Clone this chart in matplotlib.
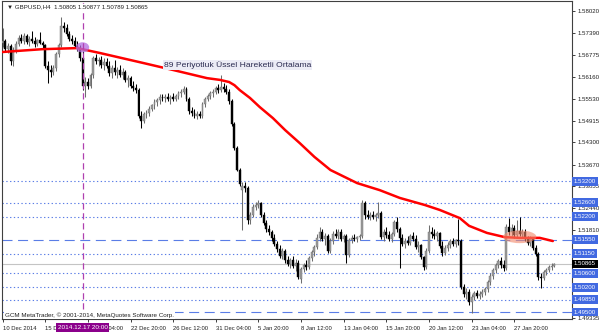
import matplotlib
matplotlib.use("Agg")
import matplotlib.pyplot as plt
import matplotlib.transforms as mtransforms
from matplotlib.patches import Ellipse
import numpy as np

# ---------------- data ----------------
opens = [
    1.5712, 1.5716, 1.5694, 1.5704, 1.5660, 1.5692, 1.5710, 1.5726, 1.5718, 1.5730,
    1.5714, 1.5722, 1.5716, 1.5710, 1.5720, 1.5712, 1.5706, 1.5646, 1.5636, 1.5628,
    1.5640, 1.5680, 1.5706, 1.5760, 1.5754, 1.5736, 1.5722, 1.5716, 1.5704, 1.5698,
    1.5670, 1.5590, 1.5600, 1.5590, 1.5620, 1.5668, 1.5660, 1.5664, 1.5648, 1.5658,
    1.5646, 1.5626, 1.5640, 1.5628, 1.5634, 1.5622, 1.5630, 1.5606, 1.5612, 1.5590,
    1.5584, 1.5578, 1.5506, 1.5490, 1.5510, 1.5514, 1.5526, 1.5536, 1.5544, 1.5550,
    1.5558, 1.5556, 1.5560, 1.5552, 1.5558, 1.5554, 1.5562, 1.5570, 1.5574, 1.5580,
    1.5552, 1.5518, 1.5512, 1.5506, 1.5510, 1.5504, 1.5538, 1.5554, 1.5562, 1.5570,
    1.5574, 1.5584, 1.5578, 1.5588, 1.5580, 1.5574, 1.5546, 1.5482, 1.5414, 1.5352,
    1.5296, 1.5308, 1.5300, 1.5210, 1.5226, 1.5248, 1.5254, 1.5258, 1.5226, 1.5202,
    1.5184, 1.5176, 1.5160, 1.5142, 1.5128, 1.5110, 1.5122, 1.5096, 1.5086, 1.5098,
    1.5080, 1.5090, 1.5044, 1.5072, 1.5084, 1.5078, 1.5102, 1.5120, 1.5134, 1.5160,
    1.5176, 1.5158, 1.5166, 1.5124, 1.5152, 1.5170, 1.5166, 1.5178, 1.5156, 1.5164,
    1.5112, 1.5154, 1.5160, 1.5156, 1.5162, 1.5166, 1.5258, 1.5226, 1.5220, 1.5226,
    1.5218, 1.5224, 1.5230, 1.5162, 1.5178, 1.5168, 1.5156, 1.5170, 1.5204, 1.5186,
    1.5160, 1.5144, 1.5152, 1.5146, 1.5164, 1.5156, 1.5134, 1.5140, 1.5106, 1.5078,
    1.5124, 1.5178, 1.5170, 1.5164, 1.5174, 1.5136, 1.5118, 1.5132, 1.5140, 1.5150,
    1.5142, 1.5154, 1.5150, 1.5022, 1.5000, 1.5008, 1.4978, 1.4992, 1.5004, 1.4996,
    1.5002, 1.5008, 1.5014, 1.5034, 1.5052, 1.5070, 1.5082, 1.5094, 1.5084, 1.5074,
    1.5190, 1.5176, 1.5188, 1.5168, 1.5180, 1.5172, 1.5178, 1.5156, 1.5146, 1.5158,
    1.5130, 1.5114, 1.5050, 1.5046, 1.5062, 1.5070, 1.5078, 1.50805,
]
highs = [
    1.5754, 1.5722, 1.5712, 1.5708, 1.5700, 1.5716, 1.5734, 1.5736, 1.5740, 1.5738,
    1.5730, 1.5744, 1.5728, 1.5724, 1.5742, 1.5718, 1.5710, 1.5660, 1.5650, 1.5648,
    1.5686, 1.5712, 1.5785, 1.5772, 1.5764, 1.5746, 1.5734, 1.5728, 1.5718, 1.5706,
    1.5690, 1.5615, 1.5612, 1.5626, 1.5675, 1.5680, 1.5672, 1.5674, 1.5668, 1.5670,
    1.5660, 1.5650, 1.5662, 1.5644, 1.5648, 1.5642, 1.5636, 1.5620, 1.5618, 1.5604,
    1.5596, 1.5584, 1.5520, 1.5516, 1.5522, 1.5532, 1.5540, 1.5552, 1.5556, 1.5566,
    1.5568, 1.5566, 1.5570, 1.5564, 1.5570, 1.5568, 1.5576, 1.5582, 1.5590, 1.5586,
    1.5560, 1.5530, 1.5524, 1.5520, 1.5518, 1.5544, 1.5560, 1.5568, 1.5576, 1.5580,
    1.5590, 1.5596, 1.5621, 1.5598, 1.5594, 1.5580, 1.5552, 1.5488, 1.5420, 1.5358,
    1.5318, 1.5318, 1.5306, 1.5232, 1.5256, 1.5262, 1.5266, 1.5262, 1.5232, 1.5210,
    1.5196, 1.5182, 1.5170, 1.5150, 1.5140, 1.5130, 1.5128, 1.5110, 1.5104, 1.5108,
    1.5100, 1.5096, 1.5078, 1.5090, 1.5096, 1.5108, 1.5126, 1.5140, 1.5170, 1.5191,
    1.5186, 1.5174, 1.5172, 1.5160, 1.5180, 1.5184, 1.5186, 1.5184, 1.5170, 1.5172,
    1.5160, 1.5168, 1.5170, 1.5166, 1.5172, 1.5267, 1.5264, 1.5238, 1.5232, 1.5236,
    1.5230, 1.5262, 1.5236, 1.5184, 1.5190, 1.5180, 1.5176, 1.5210, 1.5220, 1.5190,
    1.5170, 1.5160, 1.5166, 1.5172, 1.5176, 1.5168, 1.5150, 1.5144, 1.5110, 1.5130,
    1.5196, 1.5190, 1.5184, 1.5180, 1.5178, 1.5150, 1.5140, 1.5148, 1.5156, 1.5160,
    1.5158, 1.5214, 1.5156, 1.5030, 1.5018, 1.5014, 1.5000, 1.5010, 1.5012, 1.5010,
    1.5014, 1.5020, 1.5040, 1.5060, 1.5076, 1.5090, 1.5100, 1.5106, 1.5096, 1.5198,
    1.5215, 1.5200, 1.5196, 1.5210, 1.5218, 1.5186, 1.5184, 1.5166, 1.5164, 1.5162,
    1.5140, 1.5120, 1.5060, 1.5070, 1.5076, 1.5084, 1.5088, 1.50877,
]
lows = [
    1.5700, 1.5686, 1.5683, 1.5650, 1.5646, 1.5684, 1.5702, 1.5712, 1.5708, 1.5710,
    1.5704, 1.5712, 1.5700, 1.5702, 1.5708, 1.5698, 1.5640, 1.5598, 1.5616, 1.5620,
    1.5632, 1.5672, 1.5700, 1.5742, 1.5730, 1.5716, 1.5708, 1.5700, 1.5690, 1.5660,
    1.5578, 1.5558, 1.5580, 1.5584, 1.5612, 1.5652, 1.5646, 1.5640, 1.5636, 1.5640,
    1.5618, 1.5612, 1.5620, 1.5612, 1.5616, 1.5610, 1.5600, 1.5588, 1.5584, 1.5576,
    1.5570, 1.5500, 1.5470, 1.5484, 1.5498, 1.5506, 1.5518, 1.5526, 1.5532, 1.5540,
    1.5546, 1.5544, 1.5546, 1.5540, 1.5548, 1.5546, 1.5554, 1.5560, 1.5566, 1.5546,
    1.5510, 1.5504, 1.5500, 1.5496, 1.5498, 1.5500, 1.5530, 1.5546, 1.5554, 1.5560,
    1.5566, 1.5570, 1.5572, 1.5572, 1.5566, 1.5540, 1.5476, 1.5410, 1.5348, 1.5308,
    1.5182, 1.5290, 1.5200, 1.5198, 1.5218, 1.5240, 1.5244, 1.5220, 1.5196, 1.5176,
    1.5168, 1.5152, 1.5136, 1.5120, 1.5104, 1.5100, 1.5090, 1.5080, 1.5076, 1.5074,
    1.5066, 1.5044, 1.5032, 1.5064, 1.5070, 1.5072, 1.5094, 1.5110, 1.5128, 1.5150,
    1.5150, 1.5140, 1.5116, 1.5118, 1.5144, 1.5160, 1.5158, 1.5150, 1.5148, 1.5090,
    1.5106, 1.5146, 1.5150, 1.5148, 1.5154, 1.5160, 1.5214, 1.5212, 1.5210, 1.5214,
    1.5208, 1.5216, 1.5156, 1.5152, 1.5160, 1.5150, 1.5148, 1.5164, 1.5178, 1.5075,
    1.5136, 1.5132, 1.5140, 1.5140, 1.5150, 1.5128, 1.5120, 1.5100, 1.5070, 1.5072,
    1.5118, 1.5160, 1.5158, 1.5150, 1.5130, 1.5110, 1.5112, 1.5122, 1.5130, 1.5136,
    1.5134, 1.5140, 1.5016, 1.4992, 1.4988, 1.4970, 1.4947, 1.4984, 1.4990, 1.4986,
    1.4992, 1.4998, 1.5008, 1.5026, 1.5044, 1.5060, 1.5074, 1.5076, 1.5066, 1.5068,
    1.5168, 1.5164, 1.5160, 1.5160, 1.5166, 1.5160, 1.5150, 1.5140, 1.5138, 1.5126,
    1.5108, 1.5040, 1.5018, 1.5040, 1.5054, 1.5064, 1.5070, 1.50789,
]
closes = [
    1.5716, 1.5694, 1.5704, 1.5660, 1.5692, 1.5710, 1.5726, 1.5718, 1.5730, 1.5714,
    1.5722, 1.5716, 1.5710, 1.5720, 1.5712, 1.5706, 1.5646, 1.5636, 1.5628, 1.5640,
    1.5680, 1.5706, 1.5760, 1.5754, 1.5736, 1.5722, 1.5716, 1.5704, 1.5698, 1.5670,
    1.5590, 1.5600, 1.5590, 1.5620, 1.5668, 1.5660, 1.5664, 1.5648, 1.5658, 1.5646,
    1.5626, 1.5640, 1.5628, 1.5634, 1.5622, 1.5630, 1.5606, 1.5612, 1.5590, 1.5584,
    1.5578, 1.5506, 1.5490, 1.5510, 1.5514, 1.5526, 1.5536, 1.5544, 1.5550, 1.5558,
    1.5556, 1.5560, 1.5552, 1.5558, 1.5554, 1.5562, 1.5570, 1.5574, 1.5580, 1.5552,
    1.5518, 1.5512, 1.5506, 1.5510, 1.5504, 1.5538, 1.5554, 1.5562, 1.5570, 1.5574,
    1.5584, 1.5578, 1.5588, 1.5580, 1.5574, 1.5546, 1.5482, 1.5414, 1.5352, 1.5312,
    1.5308, 1.5300, 1.5210, 1.5226, 1.5248, 1.5254, 1.5258, 1.5226, 1.5202, 1.5184,
    1.5176, 1.5160, 1.5142, 1.5128, 1.5110, 1.5122, 1.5096, 1.5086, 1.5098, 1.5080,
    1.5090, 1.5048, 1.5072, 1.5084, 1.5078, 1.5102, 1.5120, 1.5134, 1.5160, 1.5176,
    1.5158, 1.5166, 1.5124, 1.5152, 1.5170, 1.5166, 1.5178, 1.5156, 1.5164, 1.5112,
    1.5154, 1.5160, 1.5156, 1.5162, 1.5166, 1.5258, 1.5226, 1.5220, 1.5226, 1.5218,
    1.5224, 1.5230, 1.5162, 1.5178, 1.5168, 1.5156, 1.5170, 1.5204, 1.5186, 1.5160,
    1.5144, 1.5152, 1.5146, 1.5164, 1.5156, 1.5134, 1.5140, 1.5106, 1.5078, 1.5124,
    1.5178, 1.5170, 1.5164, 1.5174, 1.5136, 1.5118, 1.5132, 1.5140, 1.5150, 1.5142,
    1.5154, 1.5150, 1.5022, 1.5000, 1.5008, 1.4978, 1.4992, 1.5004, 1.4996, 1.5002,
    1.5008, 1.5014, 1.5034, 1.5052, 1.5070, 1.5082, 1.5094, 1.5084, 1.5074, 1.5190,
    1.5176, 1.5188, 1.5168, 1.5180, 1.5172, 1.5178, 1.5156, 1.5146, 1.5158, 1.5130,
    1.5114, 1.5050, 1.5046, 1.5062, 1.5070, 1.5078, 1.5080, 1.50865,
]

# 89-period EMA (bar index, price)
ema_bars = [0, 15, 28, 36.6, 52.7, 64, 76.7, 81.6, 85, 87, 89, 92.8, 96.5, 101.4,
            106, 111.5, 117, 123, 133, 141.5, 149, 158.4, 164, 171.5, 175,
            181.7, 188.4, 194, 201.5, 206.4]
ema_vals = [1.5686, 1.5694, 1.5697, 1.5683, 1.5655, 1.5635, 1.5612, 1.5607, 1.5601,
            1.5592, 1.5578, 1.5556, 1.5530, 1.5499, 1.5465, 1.5428, 1.5389, 1.5352,
            1.5315, 1.5295, 1.5273, 1.5253, 1.5239, 1.5216, 1.5194, 1.5174, 1.5162,
            1.5160, 1.5160, 1.5151]

xtick_bars = [0, 16, 32, 48, 64, 80, 96, 112, 128, 144, 160, 176, 192]
xtick_labels = ["10 Dec 2014", "15 Dec 12:00", "18 Dec 04:00", "22 Dec 20:00",
                "26 Dec 12:00", "31 Dec 04:00", "5 Jan 20:00", "8 Jan 12:00",
                "13 Jan 04:00", "15 Jan 20:00", "20 Jan 12:00", "23 Jan 04:00",
                "27 Jan 20:00"]
ytick_vals = [1.58020, 1.57390, 1.56775, 1.56160, 1.55530, 1.54915, 1.54300,
              1.53670, 1.53055, 1.52440, 1.51810, 1.51195, 1.50580, 1.49950, 1.49335]
# tick labels that are fully hidden behind the level boxes in the original
hidden_ticks = [1.51195, 1.50580, 1.49950]

dotted_levels = [1.53200, 1.52600, 1.52200, 1.51150, 1.50600, 1.50200, 1.49850]
dashed_levels = [1.51550, 1.49500]
current_price = 1.50865
marker_bar = 30
marker_label = "2014.12.17 20:00"
title_text = "\u25BC GBPUSD,H4  1.50805 1.50877 1.50789 1.50865"
ema_label = "89 Periyotluk \u00DCssel Hareketli Ortalama"
copyright_text = "GCM MetaTrader, \u00A9 2001-2014, MetaQuotes Software Corp."

# ---------------- figure ----------------
FONT = ["Liberation Sans", "DejaVu Sans"]
plt.rcParams["font.family"] = FONT

fig = plt.figure(figsize=(6.0, 3.33), dpi=100)
ax = fig.add_axes([2 / 600, 14 / 333, 570 / 600, 318 / 333])
ax.set_xlim(-0.2, 213.6)
ax.set_ylim(1.49304, 1.58303)

blue = "#5a7de6"
for lv in dotted_levels:
    ax.axhline(lv, color=blue, lw=0.8, ls=(0, (1.2, 2.2)), zorder=1)
for lv in dashed_levels:
    ax.axhline(lv, color=blue, lw=0.8, ls=(0, (9, 5)), zorder=1)
ax.axhline(current_price, color="#c4c4c4", lw=0.8, zorder=1)

# candles
o = np.array(opens); h = np.array(highs); l = np.array(lows); c = np.array(closes)
x = np.arange(len(o))
up = c >= o
ax.vlines(x[up], l[up], h[up], color="#6e6e6e", lw=0.75, zorder=3)
ax.vlines(x[~up], l[~up], h[~up], color="#000000", lw=0.75, zorder=3)
bw = 0.74
minh = 0.00012
ax.bar(x[up], np.maximum(c[up] - o[up], minh), bottom=o[up], width=bw,
       color="#9c9c9c", edgecolor="#6e6e6e", linewidth=0.3, zorder=4)
ax.bar(x[~up], np.maximum(o[~up] - c[~up], minh), bottom=c[~up], width=bw,
       color="#000000", edgecolor="#000000", linewidth=0.3, zorder=4)

# EMA
ax.plot(ema_bars, ema_vals, color="#ff0000", lw=1.8, zorder=5,
        solid_capstyle="round", solid_joinstyle="round")

# highlight ellipses
ax.add_patch(Ellipse((marker_bar, 1.5699), 5.0, 0.0029, facecolor="#b36ee0",
                     edgecolor="none", alpha=0.75, zorder=6))
ax.add_patch(Ellipse((194, 1.5163), 12.5, 0.0036, facecolor="#f3886a",
                     edgecolor="none", alpha=0.6, zorder=6))

# vertical marker line
ax.axvline(marker_bar, color="#b040b0", lw=0.9, ls=(0, (5, 3)), zorder=7)

# EMA label
ax.text(60.5, 1.5648, ema_label, fontsize=6.1, color="#2a2a50", ha="left",
        va="center", zorder=8,
        bbox=dict(boxstyle="square,pad=0.12", fc="#ececf6", ec="none"))

# title & copyright
ax.text(0.008, 0.982, title_text, transform=ax.transAxes, fontsize=4.4,
        color="#202020", ha="left", va="center", zorder=9,
        bbox=dict(boxstyle="square,pad=0.1", fc="white", ec="none"))
ax.text(0.006, 0.013, copyright_text, transform=ax.transAxes, fontsize=4.5,
        color="#202020", ha="left", va="center", zorder=9,
        bbox=dict(boxstyle="square,pad=0.15", fc="white", ec="none"))

# axes styling
for s in ax.spines.values():
    s.set_color("#404040")
    s.set_linewidth(0.8)
ax.yaxis.tick_right()
ax.set_yticks(ytick_vals)
ax.set_yticklabels(["" if v in hidden_ticks else f"{v:.5f}" for v in ytick_vals])
ax.tick_params(axis="y", direction="out", length=2.5, width=0.6, pad=1.5,
               labelsize=4.4, colors="#202020")
ax.set_xticks(xtick_bars)
ax.set_xticklabels(xtick_labels)
ax.tick_params(axis="x", direction="out", length=2.5, width=0.6, pad=2.5,
               labelsize=4.2, colors="#202020")
for t in ax.get_xticklabels():
    t.set_ha("left")

# right-axis level boxes
trans_r = mtransforms.blended_transform_factory(ax.transAxes, ax.transData)
for lv in dotted_levels + dashed_levels:
    ax.text(1.003, lv, f"{lv:.5f}", transform=trans_r, fontsize=4.4, color="white",
            ha="left", va="center", zorder=10, clip_on=False,
            bbox=dict(boxstyle="square,pad=0.3", fc="#4169e1", ec="none"))
ax.text(1.003, current_price, f"{current_price:.5f}", transform=trans_r, fontsize=4.4,
        color="white", ha="left", va="center", zorder=10, clip_on=False,
        bbox=dict(boxstyle="square,pad=0.3", fc="#000000", ec="none"))

# marker time box
trans_b = mtransforms.blended_transform_factory(ax.transData, ax.transAxes)
ax.text(marker_bar, -0.026, marker_label, transform=trans_b, fontsize=4.6,
        color="white", ha="center", va="center", zorder=10, clip_on=False,
        bbox=dict(boxstyle="square,pad=0.3", fc="#8b008b", ec="none"))

fig.savefig("out.png", dpi=100, facecolor="white")
